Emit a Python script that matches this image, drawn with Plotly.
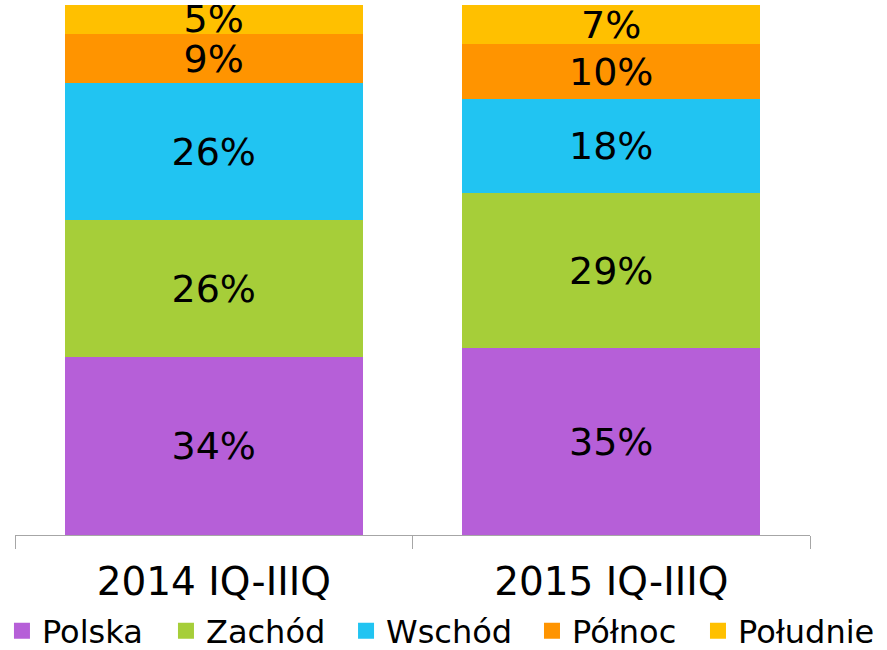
import plotly.graph_objects as go

categories = ["2014 IQ-IIIQ", "2015 IQ-IIIQ"]
series_names = ["Polska", "Zachód", "Wschód", "Północ", "Południe"]
polska = [33.6, 35.2]
zachod = [25.8, 29.4]
wschod = [25.8, 17.6]
polnoc = [9.4, 10.4]
poludnie = [5.4, 7.4]
colors = ["#B65FD8", "#A6CE39", "#21C4F2", "#FF9400", "#FFC000"]

series_values = [polska, zachod, wschod, polnoc, poludnie]

# legend entry left edges (paper x)
legend_x = [-0.0164, 0.1899, 0.4164, 0.6503, 0.8591]

fig = go.Figure()
for name, vals, col in zip(series_names, series_values, colors):
    fig.add_trace(go.Bar(
        x=categories, y=vals, name=name,
        marker=dict(color=col, line=dict(width=0)),
        texttemplate="%{y:.0f}%",
        textposition="inside",
        insidetextanchor="middle",
        textfont=dict(family="DejaVu Sans", size=38, color="black"),
        showlegend=False,
        hoverinfo="skip",
    ))

legend_layout = {}
for i, (name, col) in enumerate(zip(series_names, colors)):
    key = "legend" if i == 0 else f"legend{i+1}"
    fig.add_trace(go.Scatter(
        x=[None], y=[None], mode="markers", name=name,
        marker=dict(symbol="square", size=18, color=col),
        legend=key,
    ))
    legend_layout[key] = dict(
        orientation="h", x=legend_x[i], xanchor="left",
        y=-0.181, yanchor="middle",
        font=dict(size=32, family="DejaVu Sans", color="black"),
        itemsizing="trace", itemwidth=30,
        bgcolor="rgba(0,0,0,0)",
    )

fig.update_layout(
    barmode="stack",
    bargap=0.25,
    width=887, height=650,
    margin=dict(l=15, r=77, t=5, b=115, autoexpand=False),
    paper_bgcolor="white", plot_bgcolor="white",
    uniformtext=dict(minsize=38, mode="show"),
    font=dict(family="DejaVu Sans", color="black"),
    xaxis=dict(
        type="category", range=[-0.5, 1.5],
        showline=True, linecolor="#A6A6A6", linewidth=1,
        ticks="outside", tickson="boundaries", ticklen=13, tickcolor="#A6A6A6",
        tickfont=dict(size=39, family="DejaVu Sans", color="black"),
        ticklabelstandoff=12,
        showgrid=False,
    ),
    yaxis=dict(range=[0, 100], visible=False, showgrid=False),
    **legend_layout,
)

fig.write_html(
    "out.html",
    config={"displayModeBar": False},
    post_script="document.body.style.margin='0';document.body.style.padding='0';",
)
